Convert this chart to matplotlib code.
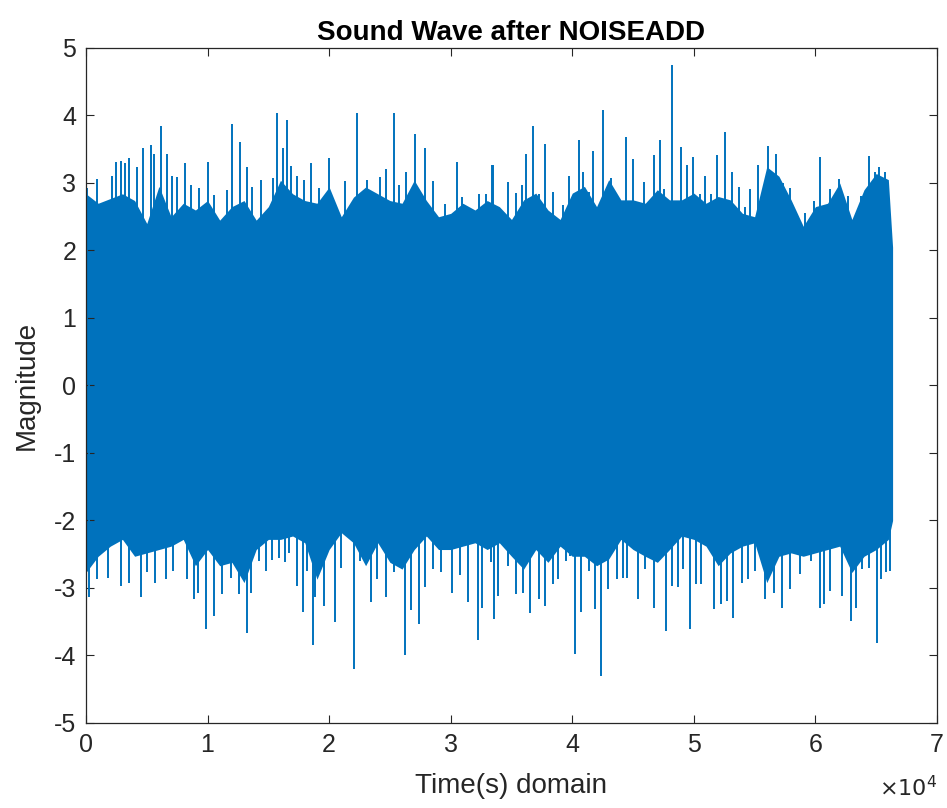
import matplotlib
matplotlib.use("Agg")
import matplotlib.pyplot as plt

plt.rcParams['font.family'] = ['Liberation Sans', 'DejaVu Sans']
plt.rcParams['axes.unicode_minus'] = False

# dense body of the waveform, read every 1000 samples
body_x = list(range(0, 67000, 1000)) + [66350]
body_x = sorted(body_x)
body_hi = [2.84, 2.70, 2.77, 2.84, 2.74, 2.40, 2.95, 2.50, 2.70, 2.60,
           2.74, 2.45, 2.65, 2.74, 2.45, 2.65, 3.04, 2.84, 2.74, 2.70,
           2.94, 2.50, 2.79, 2.94, 2.84, 2.74, 2.70, 3.04, 2.74, 2.50,
           2.55, 2.70, 2.60, 2.74, 2.65, 2.46, 2.75, 2.85, 2.60, 2.46,
           2.85, 2.95, 2.65, 3.05, 2.75, 2.75, 2.70, 2.90, 2.75, 2.75,
           2.85, 2.70, 2.80, 2.75, 2.55, 2.50, 3.24, 3.10, 2.75, 2.36,
           2.65, 2.70, 3.00, 2.46, 2.90, 3.14, 3.05, 2.05]
body_lo = [-2.77, -2.53, -2.38, -2.28, -2.53, -2.48, -2.43, -2.38, -2.28, -2.67,
           -2.43, -2.67, -2.62, -2.92, -2.43, -2.28, -2.28, -2.23, -2.33, -2.87,
           -2.43, -2.18, -2.33, -2.67, -2.33, -2.62, -2.72, -2.43, -2.23, -2.43,
           -2.43, -2.38, -2.33, -2.43, -2.33, -2.53, -2.72, -2.43, -2.62, -2.38,
           -2.53, -2.53, -2.67, -2.57, -2.28, -2.43, -2.53, -2.62, -2.43, -2.23,
           -2.28, -2.38, -2.67, -2.48, -2.38, -2.33, -2.92, -2.53, -2.48, -2.53,
           -2.48, -2.43, -2.38, -2.77, -2.53, -2.43, -2.28, -2.00]

# positive peaks
top_x = [110, 932, 2166, 2440, 2906, 3180, 3537, 4167, 4715, 5318,
         5592, 6195, 6634, 7100, 7456, 8114, 8608, 9293, 10033, 10527,
         11568, 12034, 12665, 13268, 13679, 14420, 15407, 15736, 16229, 16558,
         16887, 17326, 17929, 18477, 19163, 19985, 20671, 21274, 22316, 22809,
         23138, 24180, 24646, 25331, 25742, 26290, 27030, 27853, 28566, 29498,
         30485, 30951, 31773, 32321, 32870, 33418, 33444, 34733, 35363, 35829,
         36185, 36788, 37282, 37748, 38433, 39255, 39749, 40543, 40900, 41366,
         41667, 42489, 43147, 43778, 44408, 44956, 45422, 45888, 46245, 46711,
         47204, 47533, 48191, 48958, 49452, 49945, 50548, 50932, 51453, 51919,
         52577, 53180, 53728, 54194, 54660, 55318, 56113, 56743, 57346, 57894,
         58443, 59128, 59868, 60362, 61239, 61952, 62692, 63788, 64419, 64885,
         65241, 65707, 65981]
top_y = [2.92, 3.06, 3.11, 3.31, 3.33, 3.29, 3.37, 3.23, 3.52, 3.57,
         3.43, 3.84, 3.43, 3.11, 3.09, 3.29, 2.97, 2.92, 3.31, 2.82,
         2.90, 3.87, 3.61, 3.23, 2.94, 3.05, 3.08, 4.04, 3.52, 3.93,
         3.25, 3.11, 3.04, 3.29, 2.92, 3.37, 2.55, 3.03, 4.04, 2.87,
         3.05, 3.09, 3.20, 4.04, 2.97, 3.16, 3.73, 3.52, 3.03, 2.69,
         3.31, 2.79, 2.62, 2.84, 2.84, 3.26, 3.27, 3.02, 2.85, 2.97,
         3.43, 3.85, 2.83, 3.58, 2.87, 2.68, 3.11, 3.64, 3.17, 2.87,
         3.47, 4.08, 3.07, 2.65, 3.68, 3.35, 2.70, 3.01, 2.70, 3.41,
         3.64, 2.91, 4.75, 3.53, 3.27, 3.38, 2.83, 3.10, 2.83, 3.41,
         3.76, 3.17, 2.94, 2.65, 2.91, 3.27, 3.55, 3.43, 3.00, 2.92,
         2.43, 2.55, 2.73, 3.38, 2.91, 3.06, 2.80, 2.80, 3.40, 3.17,
         3.23, 3.17, 2.87]

# negative peaks
bot_x = [247, 932, 1809, 2851, 3537, 4496, 4989, 5647, 6552, 7182,
         8334, 8882, 9238, 9896, 10527, 11157, 11897, 12583, 13268, 13542,
         14227, 14776, 15324, 15872, 16338, 16694, 17325, 17819, 18148, 18641,
         18806, 19573, 20451, 20999, 22040, 22534, 23466, 23959, 24645, 25330,
         26235, 26756, 27387, 27853, 28566, 29224, 30128, 30759, 31444, 32266,
         32595, 33335, 33554, 33910, 34733, 35363, 35966, 36514, 37282, 37748,
         38433, 38844, 39474, 39803, 40242, 40735, 41393, 41859, 42353, 42956,
         43641, 44134, 44463, 45422, 45971, 46711, 47697, 48245, 48711, 49122,
         49671, 50219, 50630, 51644, 52275, 52741, 53234, 54002, 54495, 55016,
         55838, 56578, 57291, 57949, 58717, 59676, 60362, 60718, 61184, 62226,
         62966, 63322, 63871, 64419, 65077, 65433, 65844, 66118]
bot_y = [-3.14, -2.87, -2.85, -2.97, -2.92, -3.14, -2.77, -2.92, -2.87, -2.75,
         -2.87, -3.17, -3.07, -3.61, -3.41, -3.09, -2.85, -3.09, -3.67, -3.07,
         -2.60, -2.75, -2.58, -2.55, -2.61, -2.48, -2.97, -3.35, -2.75, -3.85,
         -3.14, -3.26, -3.50, -2.70, -4.20, -2.60, -3.21, -2.87, -3.14, -2.77,
         -3.99, -3.32, -3.54, -2.98, -2.72, -2.77, -3.07, -2.81, -3.21, -3.77,
         -3.29, -2.62, -3.46, -3.12, -2.67, -3.09, -3.07, -3.37, -3.17, -3.26,
         -2.94, -2.87, -2.60, -2.53, -3.98, -3.36, -2.75, -3.31, -4.30, -3.02,
         -2.87, -2.85, -2.85, -3.17, -2.72, -3.29, -3.63, -2.97, -2.99, -2.72,
         -3.61, -2.94, -2.94, -3.31, -3.24, -3.19, -3.44, -2.92, -2.86, -2.75,
         -3.17, -3.07, -3.29, -3.02, -2.80, -2.60, -3.29, -3.24, -3.04, -3.12,
         -3.49, -3.29, -2.72, -2.70, -3.81, -2.87, -2.77, -2.75]

x_ticks = [0, 10000, 20000, 30000, 40000, 50000, 60000, 70000]
x_labels = ['0', '1', '2', '3', '4', '5', '6', '7']
y_ticks = [-5, -4, -3, -2, -1, 0, 1, 2, 3, 4, 5]

blue = '#0072BD'
axc = '#262626'

fig = plt.figure(figsize=(9.47, 8.08), dpi=100)
ax = fig.add_axes([0.0908, 0.1052, 0.8986, 0.8354])

ax.fill_between(body_x, body_lo, body_hi, color=blue, lw=0)
ax.vlines(top_x, 0, top_y, color=blue, lw=1.4)
ax.vlines(bot_x, bot_y, 0, color=blue, lw=1.4)

ax.set_xlim(0, 70000)
ax.set_ylim(-5, 5)
ax.set_xticks(x_ticks)
ax.set_xticklabels(x_labels)
ax.set_yticks(y_ticks)
ax.set_yticklabels([str(t) for t in y_ticks])
ax.tick_params(direction='in', top=True, right=True, length=6, width=0.8,
               labelsize=18, colors=axc, pad=7)
for s in ax.spines.values():
    s.set_color(axc)
    s.set_linewidth(0.9)

ax.set_title('Sound Wave after NOISEADD', fontsize=20, fontweight='bold',
             color='black', pad=6)
ax.set_xlabel('Time(s) domain', fontsize=20, color=axc, labelpad=12)
ax.set_ylabel('Magnitude', fontsize=20, color=axc, labelpad=10)
ax.text(1.0, -0.097, r'$\times10^4$', transform=ax.transAxes, ha='right',
        va='center', fontsize=16, color=axc)

fig.savefig('out.png', dpi=100)
